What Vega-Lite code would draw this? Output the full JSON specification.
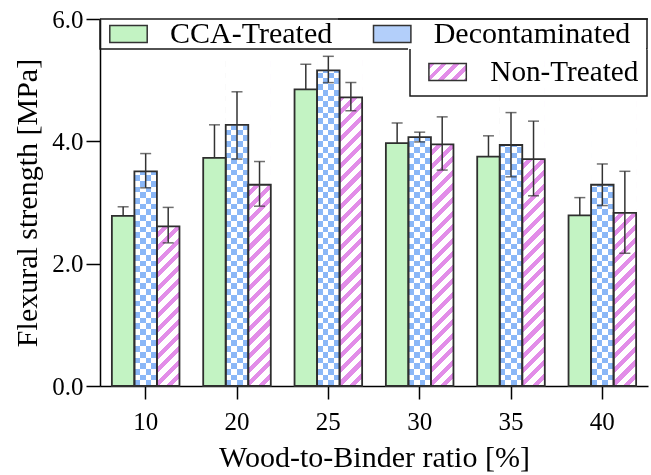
{
  "$schema": "https://vega.github.io/schema/vega-lite/v6.json",
  "width": 548,
  "height": 367,
  "autosize": {"type": "none"},
  "padding": {"left": 100, "top": 19, "right": 3, "bottom": 89},
  "background": "white",
  "config": {
    "view": {"stroke": null},
    "font": "Liberation Serif",
    "axis": {
      "domainColor": "black", "domainWidth": 1.5,
      "tickColor": "black", "tickWidth": 1.5,
      "labelFont": "Liberation Serif", "labelFontSize": 25, "labelColor": "black",
      "titleFont": "Liberation Serif", "titleFontSize": 30, "titleFontWeight": "normal", "titleColor": "black",
      "grid": false
    },
    "legend": {
      "labelFont": "Liberation Serif", "labelFontSize": 30, "labelColor": "black", "labelLimit": 400,
      "strokeColor": "#1a1a1a", "strokeWidth": 1.5,
      "strokeDash": [0, 238, 340, 238, 400, 0]
    }
  },
  "data": {
    "values": [
      {"ratio": "10", "series": "CCA-Treated", "value": 2.78, "low": 2.63, "high": 2.93},
      {"ratio": "10", "series": "Decontaminated", "value": 3.51, "low": 3.24, "high": 3.80},
      {"ratio": "10", "series": "Non-Treated", "value": 2.61, "low": 2.34, "high": 2.92},
      {"ratio": "20", "series": "CCA-Treated", "value": 3.73, "low": 3.19, "high": 4.27},
      {"ratio": "20", "series": "Decontaminated", "value": 4.27, "low": 3.71, "high": 4.81},
      {"ratio": "20", "series": "Non-Treated", "value": 3.29, "low": 2.94, "high": 3.67},
      {"ratio": "25", "series": "CCA-Treated", "value": 4.85, "low": 4.44, "high": 5.26},
      {"ratio": "25", "series": "Decontaminated", "value": 5.16, "low": 4.96, "high": 5.39},
      {"ratio": "25", "series": "Non-Treated", "value": 4.72, "low": 4.50, "high": 4.96},
      {"ratio": "30", "series": "CCA-Treated", "value": 3.97, "low": 3.64, "high": 4.30},
      {"ratio": "30", "series": "Decontaminated", "value": 4.07, "low": 3.99, "high": 4.15},
      {"ratio": "30", "series": "Non-Treated", "value": 3.95, "low": 3.53, "high": 4.40},
      {"ratio": "35", "series": "CCA-Treated", "value": 3.75, "low": 3.41, "high": 4.09},
      {"ratio": "35", "series": "Decontaminated", "value": 3.94, "low": 3.42, "high": 4.47},
      {"ratio": "35", "series": "Non-Treated", "value": 3.71, "low": 3.11, "high": 4.33},
      {"ratio": "40", "series": "CCA-Treated", "value": 2.79, "low": 2.50, "high": 3.08},
      {"ratio": "40", "series": "Decontaminated", "value": 3.29, "low": 2.95, "high": 3.63},
      {"ratio": "40", "series": "Non-Treated", "value": 2.83, "low": 2.17, "high": 3.51}
    ]
  },
  "layer": [
    {
      "encoding": {
        "x": {
          "field": "ratio", "type": "ordinal",
          "scale": {"paddingInner": 0.26, "paddingOuter": 0.13},
          "axis": {"title": "Wood-to-Binder ratio [%]", "labelAngle": 0, "tickSize": 13, "labelPadding": 10, "titlePadding": 8}
        },
        "xOffset": {
          "field": "series", "type": "nominal",
          "scale": {"domain": ["CCA-Treated", "Decontaminated", "Non-Treated"], "paddingInner": 0, "paddingOuter": 0}
        }
      },
      "layer": [
        {
          "transform": [{"filter": "datum.series === 'CCA-Treated'"}],
          "mark": {"type": "rule", "color": "#333333", "strokeWidth": 1.5},
          "encoding": {"y": {"field": "low", "type": "quantitative", "scale": {"domain": [0, 6], "nice": false}}, "y2": {"field": "high"}}
        },
        {
          "transform": [{"filter": "datum.series === 'CCA-Treated'"}],
          "mark": {"type": "tick", "orient": "horizontal", "size": 11, "thickness": 1.5, "color": "#333333"},
          "encoding": {"y": {"field": "high", "type": "quantitative"}}
        },
        {
          "transform": [{"filter": "datum.series === 'CCA-Treated'"}],
          "mark": {"type": "bar", "fill": "#c3f3c3"},
          "encoding": {
            "y": {
              "field": "value", "type": "quantitative",
              "scale": {"domain": [0, 6], "nice": false},
              "axis": {"title": "Flexural strength [MPa]", "values": [0, 2, 4, 6], "format": ".1f", "tickSize": 14, "labelPadding": 3, "titlePadding": 9}
            }
          }
        },
        {
          "transform": [{"filter": "datum.series === 'Decontaminated'"}],
          "mark": {
            "type": "bar",
            "fill": {"gradient": "linear", "x1": 0, "y1": 0, "x2": 1, "y2": 0, "stops": [
              {"offset": 0, "color": "white"}, {"offset": 0.25, "color": "white"},
              {"offset": 0.25, "color": "black"}, {"offset": 0.5, "color": "black"},
              {"offset": 0.5, "color": "white"}, {"offset": 0.75, "color": "white"},
              {"offset": 0.75, "color": "black"}, {"offset": 1, "color": "black"}
            ]}
          },
          "encoding": {"y": {"datum": 5.4, "type": "quantitative"}, "y2": {"datum": 0}}
        },
        {
          "transform": [{"filter": "datum.series === 'Decontaminated'"}],
          "mark": {
            "type": "bar",
            "blend": "difference",
            "fill": {"gradient": "linear", "x1": 0, "y1": 0, "x2": 0, "y2": 1, "stops": [
              {"offset": 0, "color": "black"}, {"offset": 0.01724, "color": "black"},
              {"offset": 0.01724, "color": "white"}, {"offset": 0.03448, "color": "white"},
              {"offset": 0.03448, "color": "black"}, {"offset": 0.05172, "color": "black"},
              {"offset": 0.05172, "color": "white"}, {"offset": 0.06897, "color": "white"},
              {"offset": 0.06897, "color": "black"}, {"offset": 0.08621, "color": "black"},
              {"offset": 0.08621, "color": "white"}, {"offset": 0.10345, "color": "white"},
              {"offset": 0.10345, "color": "black"}, {"offset": 0.12069, "color": "black"},
              {"offset": 0.12069, "color": "white"}, {"offset": 0.13793, "color": "white"},
              {"offset": 0.13793, "color": "black"}, {"offset": 0.15517, "color": "black"},
              {"offset": 0.15517, "color": "white"}, {"offset": 0.17241, "color": "white"},
              {"offset": 0.17241, "color": "black"}, {"offset": 0.18966, "color": "black"},
              {"offset": 0.18966, "color": "white"}, {"offset": 0.2069, "color": "white"},
              {"offset": 0.2069, "color": "black"}, {"offset": 0.22414, "color": "black"},
              {"offset": 0.22414, "color": "white"}, {"offset": 0.24138, "color": "white"},
              {"offset": 0.24138, "color": "black"}, {"offset": 0.25862, "color": "black"},
              {"offset": 0.25862, "color": "white"}, {"offset": 0.27586, "color": "white"},
              {"offset": 0.27586, "color": "black"}, {"offset": 0.2931, "color": "black"},
              {"offset": 0.2931, "color": "white"}, {"offset": 0.31034, "color": "white"},
              {"offset": 0.31034, "color": "black"}, {"offset": 0.32759, "color": "black"},
              {"offset": 0.32759, "color": "white"}, {"offset": 0.34483, "color": "white"},
              {"offset": 0.34483, "color": "black"}, {"offset": 0.36207, "color": "black"},
              {"offset": 0.36207, "color": "white"}, {"offset": 0.37931, "color": "white"},
              {"offset": 0.37931, "color": "black"}, {"offset": 0.39655, "color": "black"},
              {"offset": 0.39655, "color": "white"}, {"offset": 0.41379, "color": "white"},
              {"offset": 0.41379, "color": "black"}, {"offset": 0.43103, "color": "black"},
              {"offset": 0.43103, "color": "white"}, {"offset": 0.44828, "color": "white"},
              {"offset": 0.44828, "color": "black"}, {"offset": 0.46552, "color": "black"},
              {"offset": 0.46552, "color": "white"}, {"offset": 0.48276, "color": "white"},
              {"offset": 0.48276, "color": "black"}, {"offset": 0.5, "color": "black"},
              {"offset": 0.5, "color": "white"}, {"offset": 0.51724, "color": "white"},
              {"offset": 0.51724, "color": "black"}, {"offset": 0.53448, "color": "black"},
              {"offset": 0.53448, "color": "white"}, {"offset": 0.55172, "color": "white"},
              {"offset": 0.55172, "color": "black"}, {"offset": 0.56897, "color": "black"},
              {"offset": 0.56897, "color": "white"}, {"offset": 0.58621, "color": "white"},
              {"offset": 0.58621, "color": "black"}, {"offset": 0.60345, "color": "black"},
              {"offset": 0.60345, "color": "white"}, {"offset": 0.62069, "color": "white"},
              {"offset": 0.62069, "color": "black"}, {"offset": 0.63793, "color": "black"},
              {"offset": 0.63793, "color": "white"}, {"offset": 0.65517, "color": "white"},
              {"offset": 0.65517, "color": "black"}, {"offset": 0.67241, "color": "black"},
              {"offset": 0.67241, "color": "white"}, {"offset": 0.68966, "color": "white"},
              {"offset": 0.68966, "color": "black"}, {"offset": 0.7069, "color": "black"},
              {"offset": 0.7069, "color": "white"}, {"offset": 0.72414, "color": "white"},
              {"offset": 0.72414, "color": "black"}, {"offset": 0.74138, "color": "black"},
              {"offset": 0.74138, "color": "white"}, {"offset": 0.75862, "color": "white"},
              {"offset": 0.75862, "color": "black"}, {"offset": 0.77586, "color": "black"},
              {"offset": 0.77586, "color": "white"}, {"offset": 0.7931, "color": "white"},
              {"offset": 0.7931, "color": "black"}, {"offset": 0.81034, "color": "black"},
              {"offset": 0.81034, "color": "white"}, {"offset": 0.82759, "color": "white"},
              {"offset": 0.82759, "color": "black"}, {"offset": 0.84483, "color": "black"},
              {"offset": 0.84483, "color": "white"}, {"offset": 0.86207, "color": "white"},
              {"offset": 0.86207, "color": "black"}, {"offset": 0.87931, "color": "black"},
              {"offset": 0.87931, "color": "white"}, {"offset": 0.89655, "color": "white"},
              {"offset": 0.89655, "color": "black"}, {"offset": 0.91379, "color": "black"},
              {"offset": 0.91379, "color": "white"}, {"offset": 0.93103, "color": "white"},
              {"offset": 0.93103, "color": "black"}, {"offset": 0.94828, "color": "black"},
              {"offset": 0.94828, "color": "white"}, {"offset": 0.96552, "color": "white"},
              {"offset": 0.96552, "color": "black"}, {"offset": 0.98276, "color": "black"},
              {"offset": 0.98276, "color": "white"}, {"offset": 1, "color": "white"}
            ]}
          },
          "encoding": {"y": {"datum": 5.4, "type": "quantitative"}, "y2": {"datum": 0}}
        },
        {
          "transform": [{"filter": "datum.series === 'Decontaminated'"}],
          "mark": {"type": "bar", "blend": "screen", "fill": "#8ab7f7"},
          "encoding": {"y": {"datum": 5.4, "type": "quantitative"}, "y2": {"datum": 0}}
        },
        {
          "transform": [{"filter": "datum.series === 'Non-Treated'"}],
          "mark": {
            "type": "bar",
            "fill": {"gradient": "linear", "x1": 0, "y1": 0, "x2": 0.0725, "y2": 1.0632, "stops": [
              {"offset": 0, "color": "#e28de8"}, {"offset": 0.01731, "color": "#e28de8"}, {"offset": 0.01731, "color": "white"}, {"offset": 0.03846, "color": "white"},
              {"offset": 0.03846, "color": "#e28de8"}, {"offset": 0.05577, "color": "#e28de8"}, {"offset": 0.05577, "color": "white"}, {"offset": 0.07692, "color": "white"},
              {"offset": 0.07692, "color": "#e28de8"}, {"offset": 0.09423, "color": "#e28de8"}, {"offset": 0.09423, "color": "white"}, {"offset": 0.11538, "color": "white"},
              {"offset": 0.11538, "color": "#e28de8"}, {"offset": 0.13269, "color": "#e28de8"}, {"offset": 0.13269, "color": "white"}, {"offset": 0.15385, "color": "white"},
              {"offset": 0.15385, "color": "#e28de8"}, {"offset": 0.17115, "color": "#e28de8"}, {"offset": 0.17115, "color": "white"}, {"offset": 0.19231, "color": "white"},
              {"offset": 0.19231, "color": "#e28de8"}, {"offset": 0.20962, "color": "#e28de8"}, {"offset": 0.20962, "color": "white"}, {"offset": 0.23077, "color": "white"},
              {"offset": 0.23077, "color": "#e28de8"}, {"offset": 0.24808, "color": "#e28de8"}, {"offset": 0.24808, "color": "white"}, {"offset": 0.26923, "color": "white"},
              {"offset": 0.26923, "color": "#e28de8"}, {"offset": 0.28654, "color": "#e28de8"}, {"offset": 0.28654, "color": "white"}, {"offset": 0.30769, "color": "white"},
              {"offset": 0.30769, "color": "#e28de8"}, {"offset": 0.325, "color": "#e28de8"}, {"offset": 0.325, "color": "white"}, {"offset": 0.34615, "color": "white"},
              {"offset": 0.34615, "color": "#e28de8"}, {"offset": 0.36346, "color": "#e28de8"}, {"offset": 0.36346, "color": "white"}, {"offset": 0.38462, "color": "white"},
              {"offset": 0.38462, "color": "#e28de8"}, {"offset": 0.40192, "color": "#e28de8"}, {"offset": 0.40192, "color": "white"}, {"offset": 0.42308, "color": "white"},
              {"offset": 0.42308, "color": "#e28de8"}, {"offset": 0.44038, "color": "#e28de8"}, {"offset": 0.44038, "color": "white"}, {"offset": 0.46154, "color": "white"},
              {"offset": 0.46154, "color": "#e28de8"}, {"offset": 0.47885, "color": "#e28de8"}, {"offset": 0.47885, "color": "white"}, {"offset": 0.5, "color": "white"},
              {"offset": 0.5, "color": "#e28de8"}, {"offset": 0.51731, "color": "#e28de8"}, {"offset": 0.51731, "color": "white"}, {"offset": 0.53846, "color": "white"},
              {"offset": 0.53846, "color": "#e28de8"}, {"offset": 0.55577, "color": "#e28de8"}, {"offset": 0.55577, "color": "white"}, {"offset": 0.57692, "color": "white"},
              {"offset": 0.57692, "color": "#e28de8"}, {"offset": 0.59423, "color": "#e28de8"}, {"offset": 0.59423, "color": "white"}, {"offset": 0.61538, "color": "white"},
              {"offset": 0.61538, "color": "#e28de8"}, {"offset": 0.63269, "color": "#e28de8"}, {"offset": 0.63269, "color": "white"}, {"offset": 0.65385, "color": "white"},
              {"offset": 0.65385, "color": "#e28de8"}, {"offset": 0.67115, "color": "#e28de8"}, {"offset": 0.67115, "color": "white"}, {"offset": 0.69231, "color": "white"},
              {"offset": 0.69231, "color": "#e28de8"}, {"offset": 0.70962, "color": "#e28de8"}, {"offset": 0.70962, "color": "white"}, {"offset": 0.73077, "color": "white"},
              {"offset": 0.73077, "color": "#e28de8"}, {"offset": 0.74808, "color": "#e28de8"}, {"offset": 0.74808, "color": "white"}, {"offset": 0.76923, "color": "white"},
              {"offset": 0.76923, "color": "#e28de8"}, {"offset": 0.78654, "color": "#e28de8"}, {"offset": 0.78654, "color": "white"}, {"offset": 0.80769, "color": "white"},
              {"offset": 0.80769, "color": "#e28de8"}, {"offset": 0.825, "color": "#e28de8"}, {"offset": 0.825, "color": "white"}, {"offset": 0.84615, "color": "white"},
              {"offset": 0.84615, "color": "#e28de8"}, {"offset": 0.86346, "color": "#e28de8"}, {"offset": 0.86346, "color": "white"}, {"offset": 0.88462, "color": "white"},
              {"offset": 0.88462, "color": "#e28de8"}, {"offset": 0.90192, "color": "#e28de8"}, {"offset": 0.90192, "color": "white"}, {"offset": 0.92308, "color": "white"},
              {"offset": 0.92308, "color": "#e28de8"}, {"offset": 0.94038, "color": "#e28de8"}, {"offset": 0.94038, "color": "white"}, {"offset": 0.96154, "color": "white"},
              {"offset": 0.96154, "color": "#e28de8"}, {"offset": 0.97885, "color": "#e28de8"}, {"offset": 0.97885, "color": "white"}, {"offset": 1, "color": "white"}
            ]}
          },
          "encoding": {"y": {"datum": 5.4, "type": "quantitative"}, "y2": {"datum": 0}}
        },
        {
          "transform": [{"filter": "datum.series !== 'CCA-Treated'"}],
          "mark": {"type": "bar", "fill": "white", "stroke": "white", "strokeWidth": 1.2},
          "encoding": {"y": {"field": "value", "type": "quantitative"}, "y2": {"datum": 5.5}}
        },
        {
          "mark": {"type": "bar", "fill": "transparent", "stroke": "#2e2e2e", "strokeWidth": 1.8},
          "encoding": {"y": {"field": "value", "type": "quantitative"}}
        },
        {
          "transform": [{"filter": "datum.series !== 'Non-Treated'"}],
          "mark": {"type": "bar", "opacity": 0, "stroke": "#333333"},
          "encoding": {
            "y": {"field": "value", "type": "quantitative"},
            "fill": {
              "field": "series", "type": "nominal",
              "scale": {"domain": ["CCA-Treated", "Decontaminated"], "range": ["#c3f3c3", "#b3cffa"]},
              "legend": {
                "title": " ", "titleOrient": "right", "titleFontSize": 1, "titlePadding": 17,
                "orient": "none", "legendX": 0, "legendY": 0, "direction": "horizontal",
                "padding": 0, "columnPadding": 30.7, "symbolOffset": 13.5, "labelOffset": 26.5,
                "symbolType": "M-2.2,-1H2.2V1H-2.2Z", "symbolSize": 289, "symbolOpacity": 1,
                "symbolStrokeWidth": 1.5, "symbolStrokeColor": "#333333", "zindex": 1
              }
            }
          }
        },
        {
          "transform": [{"filter": "datum.series === 'Non-Treated'"}],
          "mark": {
            "type": "bar", "opacity": 0,
            "fill": {"gradient": "linear", "x1": 0, "y1": 0, "x2": 1.2056, "y2": 0.548, "stops": [
              {"offset": 0, "color": "#e28de8"}, {"offset": 0.105, "color": "#e28de8"},
              {"offset": 0.105, "color": "white"}, {"offset": 0.2335, "color": "white"},
              {"offset": 0.2335, "color": "#e28de8"}, {"offset": 0.3385, "color": "#e28de8"},
              {"offset": 0.3385, "color": "white"}, {"offset": 0.467, "color": "white"},
              {"offset": 0.467, "color": "#e28de8"}, {"offset": 0.572, "color": "#e28de8"},
              {"offset": 0.572, "color": "white"}, {"offset": 0.7005, "color": "white"},
              {"offset": 0.7005, "color": "#e28de8"}, {"offset": 0.8055, "color": "#e28de8"},
              {"offset": 0.8055, "color": "white"}, {"offset": 0.934, "color": "white"},
              {"offset": 0.934, "color": "#e28de8"}, {"offset": 1, "color": "#e28de8"}
            ]}
          },
          "encoding": {
            "y": {"field": "value", "type": "quantitative"},
            "stroke": {
              "field": "series", "type": "nominal",
              "scale": {"domain": ["Non-Treated"], "range": ["#333333"]},
              "legend": {
                "title": null, "orient": "none", "legendX": 310, "legendY": 30,
                "padding": 8.5, "symbolOffset": 14.5, "labelOffset": 28.1, "labelFontSize": 29.2,
                "symbolType": "M-2.2,-1H2.2V1H-2.2Z", "symbolSize": 289, "symbolOpacity": 1,
                "symbolStrokeWidth": 1.5, "zindex": 2
              }
            }
          }
        },
        {
          "transform": [{"filter": "datum.series !== 'CCA-Treated'"}],
          "mark": {"type": "rule", "color": "#333333", "strokeWidth": 1.5},
          "encoding": {"y": {"field": "low", "type": "quantitative"}, "y2": {"field": "high"}}
        },
        {
          "transform": [{"filter": "datum.series !== 'CCA-Treated'"}],
          "mark": {"type": "tick", "orient": "horizontal", "size": 11, "thickness": 1.5, "color": "#333333"},
          "encoding": {"y": {"field": "high", "type": "quantitative"}}
        },
        {
          "transform": [{"filter": "datum.series !== 'CCA-Treated'"}],
          "mark": {"type": "tick", "orient": "horizontal", "size": 11, "thickness": 1.5, "color": "#333333"},
          "encoding": {"y": {"field": "low", "type": "quantitative"}}
        }
      ]
    },
    {
      "data": {"values": [{}]},
      "mark": {"type": "rule", "color": "#1a1a1a", "strokeWidth": 1.5},
      "encoding": {"y": {"datum": 6, "type": "quantitative"}}
    }
  ]
}
